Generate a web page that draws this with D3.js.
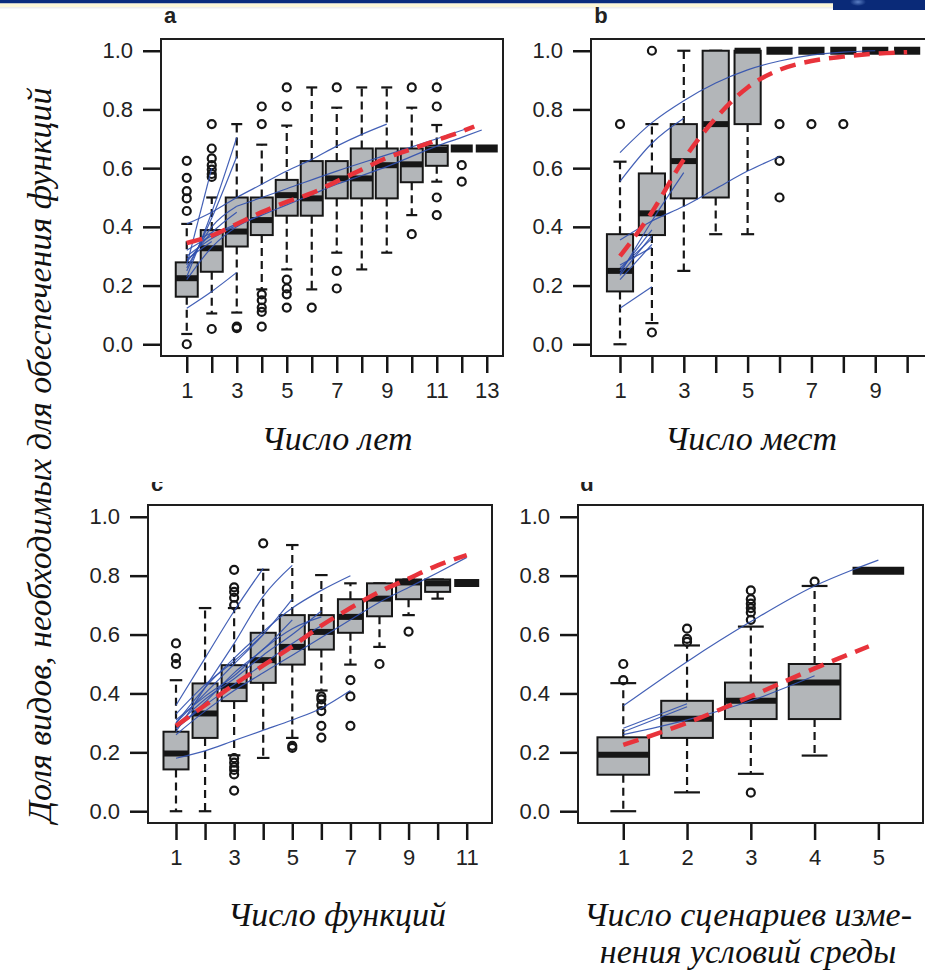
<!DOCTYPE html>
<html>
<head>
<meta charset="utf-8">
<script src="https://cdn.jsdelivr.net/npm/d3@7"></script>
<style>
  html, body { margin: 0; padding: 0; background: #fff; }
  svg { display: block; }
</style>
</head>
<body>
<svg id="chart" width="925" height="971"></svg>
<script>
// ---------------- DATA ----------------
const yTickValues = [0, 0.2, 0.4, 0.6, 0.8, 1.0];

// Panel a : Число лет
const aCats = d3.range(1, 14);
const aStats = [ // [lower whisker, q1, median, q3, upper whisker]
  [0.035, 0.162, 0.225, 0.279, 0.41],
  [0.105, 0.247, 0.327, 0.389, 0.50],
  [0.108, 0.333, 0.384, 0.50, 0.75],
  [0.187, 0.372, 0.423, 0.50, 0.68],
  [0.255, 0.438, 0.508, 0.56, 0.745],
  [0.187, 0.438, 0.497, 0.624, 0.875],
  [0.312, 0.497, 0.565, 0.624, 0.806],
  [0.255, 0.497, 0.565, 0.667, 0.875],
  [0.312, 0.497, 0.61, 0.667, 0.875],
  [0.44, 0.552, 0.613, 0.667, 0.806],
  [0.554, 0.608, 0.662, 0.677, 0.747],
  [0.667, 0.667, 0.667, 0.667, 0.667],
  [0.667, 0.667, 0.667, 0.667, 0.667]
];
const aOutliers = [
  [0.625, 0.567, 0.522, 0.497, 0.454, 0.0],
  [0.75, 0.667, 0.633, 0.61, 0.595, 0.58, 0.57, 0.052],
  [0.06, 0.055],
  [0.81, 0.75, 0.17, 0.15, 0.125, 0.11, 0.06],
  [0.875, 0.81, 0.22, 0.19, 0.17, 0.125],
  [0.125],
  [0.875, 0.25, 0.19],
  [],
  [],
  [0.875, 0.375],
  [0.875, 0.81, 0.5, 0.44],
  [0.61, 0.554],
  []
];
const aRed = [[1,0.345],[2,0.37],[3,0.41],[4,0.45],[5,0.485],[6,0.515],[7,0.555],[8,0.595],[9,0.635],[10,0.665],[11,0.695],[12,0.725],[12.5,0.742]];
const aBlue = [
  [[1,0.123],[2,0.18],[3,0.245]],
  [[1,0.41],[2,0.45],[3,0.50],[4,0.545],[5,0.59],[6,0.63],[7,0.675],[8,0.715],[9,0.75]],
  [[1,0.30],[2,0.36],[3,0.405],[4,0.44],[5,0.475],[6,0.51],[7,0.545],[8,0.575],[9,0.605],[10,0.64],[11,0.675],[12,0.705],[12.8,0.73]],
  [[3,0.47],[5,0.53],[7,0.59],[9,0.645],[11,0.70],[12.4,0.74]],
  [[1,0.23],[2,0.45],[3,0.705]],
  [[1,0.25],[2,0.43],[3,0.64]],
  [[1,0.26],[2,0.40],[3,0.47]],
  [[1,0.28],[2,0.38],[3,0.45]],
  [[1,0.27],[2,0.60]],
  [[1,0.32],[2,0.37],[3,0.41]],
  [[1,0.22],[2,0.33],[3,0.40],[4,0.44]],
  [[1,0.29],[2,0.35]],
  [[1,0.34],[2,0.38]]
];

// Panel b : Число мест
const bCats = d3.range(1, 11);
const bStats = [
  [0.0, 0.18, 0.25, 0.375, 0.622],
  [0.072, 0.372, 0.446, 0.582, 0.75],
  [0.25, 0.497, 0.624, 0.75, 1.0],
  [0.375, 0.5, 0.75, 1.0, 1.0],
  [0.375, 0.75, 1.0, 1.0, 1.0],
  [1, 1, 1, 1, 1],
  [1, 1, 1, 1, 1],
  [1, 1, 1, 1, 1],
  [1, 1, 1, 1, 1],
  [1, 1, 1, 1, 1]
];
const bOutliers = [
  [0.75],
  [1.0, 0.04],
  [],
  [],
  [],
  [0.75, 0.625, 0.5],
  [0.75],
  [0.75],
  [],
  []
];
const bRed = [[1,0.30],[2,0.45],[3,0.63],[4,0.77],[5,0.875],[6,0.935],[7,0.965],[8,0.98],[9,0.99],[10,0.995]];
const bBlue = [
  [[1,0.653],[2,0.755],[3,0.83],[4,0.89],[5,0.935],[6,0.965],[7,0.985],[8,0.995],[9,1.0]],
  [[1,0.555],[2,0.685],[3,0.77]],
  [[1,0.355],[2,0.42],[3,0.47],[4,0.53],[5,0.59],[6,0.64]],
  [[1,0.123],[2,0.196]],
  [[1,0.24],[2,0.42],[3,0.585]],
  [[1,0.22],[2,0.34]],
  [[1,0.235],[2,0.37]],
  [[1,0.25],[2,0.39]],
  [[1,0.26],[2,0.36]],
  [[1,0.27],[2,0.33]]
];

// Panel c : Число функций
const cCats = d3.range(1, 12);
const cStats = [
  [0.0, 0.142, 0.196, 0.27, 0.445],
  [0.0, 0.249, 0.332, 0.434, 0.69],
  [0.19, 0.374, 0.426, 0.496, 0.69],
  [0.181, 0.436, 0.513, 0.606, 0.82],
  [0.249, 0.498, 0.558, 0.666, 0.904],
  [0.41, 0.549, 0.609, 0.666, 0.802],
  [0.498, 0.606, 0.66, 0.72, 0.774],
  [0.558, 0.662, 0.722, 0.774, 0.774],
  [0.666, 0.72, 0.777, 0.787, 0.787],
  [0.722, 0.745, 0.774, 0.787, 0.787],
  [0.775, 0.775, 0.775, 0.775, 0.775]
];
const cOutliers = [
  [0.57, 0.52, 0.5],
  [],
  [0.82, 0.76, 0.745, 0.725, 0.70, 0.18, 0.165, 0.15, 0.14, 0.125, 0.07],
  [0.91],
  [0.222, 0.215],
  [0.39, 0.38, 0.36, 0.34, 0.29, 0.25],
  [0.445, 0.39, 0.29],
  [0.5],
  [0.61],
  [],
  []
];
const cRed = [[1,0.29],[2,0.36],[3,0.43],[4,0.495],[5,0.56],[6,0.63],[7,0.69],[8,0.745],[9,0.79],[10,0.835],[11,0.87]];
const cBlue = [
  [[1,0.18],[2,0.205],[3,0.24],[4,0.275],[5,0.31],[6,0.35],[7,0.41]],
  [[1,0.36],[2,0.52],[3,0.68],[4,0.825]],
  [[1,0.27],[2,0.42],[3,0.57],[4,0.73],[5,0.835]],
  [[1,0.30],[2,0.42],[3,0.52],[4,0.61],[5,0.69],[6,0.75],[7,0.80]],
  [[1,0.30],[2,0.40],[3,0.50],[4,0.60],[5,0.72]],
  [[1,0.29],[2,0.38],[3,0.45],[4,0.53],[5,0.60],[6,0.68]],
  [[1,0.28],[2,0.36],[3,0.43],[4,0.50],[5,0.57],[6,0.63]],
  [[1,0.26],[2,0.34],[3,0.41],[4,0.47],[5,0.53],[6,0.59],[7,0.65],[8,0.71],[9,0.76],[10,0.81],[11,0.862]],
  [[1,0.31],[2,0.39],[3,0.46],[4,0.55],[5,0.62],[6,0.66]],
  [[1,0.33],[2,0.43],[3,0.51],[4,0.60]],
  [[1,0.28],[2,0.37],[3,0.47],[4,0.55],[5,0.65]]
];

// Panel d : Число сценариев изменения условий среды
const dCats = d3.range(1, 6);
const dStats = [
  [0.0, 0.124, 0.192, 0.251, 0.435],
  [0.064, 0.249, 0.314, 0.375, 0.563],
  [0.127, 0.313, 0.375, 0.437, 0.627],
  [0.189, 0.313, 0.437, 0.5, 0.765],
  [0.817, 0.817, 0.817, 0.817, 0.817]
];
const dOutliers = [
  [0.5, 0.445],
  [0.62, 0.585, 0.575],
  [0.75, 0.72, 0.705, 0.69, 0.675, 0.65, 0.063],
  [0.78],
  []
];
const dRed = [[1,0.225],[2,0.30],[3,0.39],[4,0.485],[4.85,0.56]];
const dBlue = [
  [[1,0.358],[2,0.508],[3,0.644],[4,0.765],[4.6,0.82],[5,0.853]],
  [[1,0.282],[2,0.365]],
  [[1,0.27],[2,0.355]],
  [[1,0.26],[2,0.31],[3,0.375],[4,0.46]]
];

// Texts
const panelLetters = ["a", "b", "c", "d"];
const xTitles = [["Число лет"], ["Число мест"], ["Число функций"], ["Число сценариев изме-", "нения условий среды"]];
const yTitle = "Доля видов, необходимых для обеспечения функций";

// ---------------- LAYOUT ----------------
const panels = [
  { letter: panelLetters[0], cats: aCats, stats: aStats, outs: aOutliers, red: aRed, blue: aBlue, titles: xTitles[0],
    frame: {l:161, t:39, r:503, b:356}, xDom: [-0.03, 13.65], boxW: 0.88, labelEvery: 2,
    letterPos: [170, 23], titlePos: [337, 450] },
  { letter: panelLetters[1], cats: bCats, stats: bStats, outs: bOutliers, red: bRed, blue: bBlue, titles: xTitles[1],
    frame: {l:591, t:39, r:940, b:356}, xDom: [0.091, 11.03], boxW: 0.82, labelEvery: 2,
    letterPos: [601, 23], titlePos: [751, 450] },
  { letter: panelLetters[2], cats: cCats, stats: cStats, outs: cOutliers, red: cRed, blue: cBlue, titles: xTitles[2],
    frame: {l:148, t:505, r:492, b:823}, xDom: [0.037, 11.87], boxW: 0.86, labelEvery: 2,
    letterPos: [157, 491], titlePos: [337, 926] },
  { letter: panelLetters[3], cats: dCats, stats: dStats, outs: dOutliers, red: dRed, blue: dBlue, titles: xTitles[3],
    frame: {l:578, t:505, r:923, b:823}, xDom: [0.29, 5.70], boxW: 0.81, labelEvery: 1,
    letterPos: [587, 491], titlePos: [748, 926] }
];

const svg = d3.select("#chart");
const INK = "#161616";
const BOX_FILL = "#b3b6b9";
const BLUE = "#2f4fae";
const RED = "#e8333b";

// slide banner at top
svg.append("rect").attr("x", 0).attr("y", 0).attr("width", 925).attr("height", 3.5).attr("fill", "#0b2d7d");
svg.append("rect").attr("x", 0).attr("y", 3.5).attr("width", 833).attr("height", 3.5).attr("fill", "#fdf7d6");
svg.append("rect").attr("x", 0).attr("y", 7).attr("width", 833).attr("height", 1.5).attr("fill", "#eeeeee");
const defs = svg.append("defs");
const grad = defs.append("radialGradient").attr("id", "spot");
grad.append("stop").attr("offset", "0%").attr("stop-color", "#5b7fc4");
grad.append("stop").attr("offset", "100%").attr("stop-color", "#0a2a78");
svg.append("rect").attr("x", 833).attr("y", 0).attr("width", 92).attr("height", 10).attr("fill", "#0a2a78");
svg.append("ellipse").attr("cx", 858).attr("cy", 2).attr("rx", 8).attr("ry", 4).attr("fill", "url(#spot)");

defs.append("clipPath").attr("id", "letterClip")
  .append("rect").attr("x", 0).attr("y", 482).attr("width", 925).attr("height", 20);

const SERIF = "'Liberation Serif', 'Times New Roman', serif";
const SANS = "'Liberation Sans', Arial, sans-serif";

panels.forEach((p, pi) => {
  const f = p.frame;
  const x = d3.scaleLinear().domain(p.xDom).range([f.l, f.r]);
  const y = d3.scaleLinear().domain([-0.04, 1.04]).range([f.b, f.t]);
  const unit = x(1) - x(0);
  const bw = p.boxW * unit;
  const g = svg.append("g");

  const cid = "clip" + pi;
  defs.append("clipPath").attr("id", cid)
    .append("rect").attr("x", f.l).attr("y", f.t).attr("width", f.r - f.l).attr("height", f.b - f.t);
  const plot = g.append("g").attr("clip-path", `url(#${cid})`);

  // boxes
  p.stats.forEach((s, i) => {
    const cx = x(p.cats[i]);
    const [lo, q1, med, q3, hi] = s;
    const bg = plot.append("g");
    if (hi > q3) bg.append("line").attr("x1", cx).attr("x2", cx).attr("y1", y(q3)).attr("y2", y(hi))
      .attr("stroke", INK).attr("stroke-width", 2.2).attr("stroke-dasharray", "8,5");
    if (lo < q1) bg.append("line").attr("x1", cx).attr("x2", cx).attr("y1", y(q1)).attr("y2", y(lo))
      .attr("stroke", INK).attr("stroke-width", 2.2).attr("stroke-dasharray", "8,5");
    [lo, hi].forEach(v => bg.append("line").attr("x1", cx - bw / 4).attr("x2", cx + bw / 4)
      .attr("y1", y(v)).attr("y2", y(v)).attr("stroke", INK).attr("stroke-width", 2.2));
    bg.append("rect").attr("x", cx - bw / 2).attr("width", bw)
      .attr("y", y(q3)).attr("height", Math.max(0, y(q1) - y(q3)))
      .attr("fill", BOX_FILL).attr("stroke", INK).attr("stroke-width", 2);
    bg.append("line").attr("x1", cx - bw / 2).attr("x2", cx + bw / 2)
      .attr("y1", y(med)).attr("y2", y(med)).attr("stroke", INK)
      .attr("stroke-width", q1 === q3 ? 8 : 6);
    p.outs[i].forEach(v => bg.append("circle").attr("cx", cx).attr("cy", y(v)).attr("r", 4)
      .attr("fill", "none").attr("stroke", INK).attr("stroke-width", 2.2));
  });

  // blue individual curves
  const line = d3.line().x(d => x(d[0])).y(d => y(d[1])).curve(d3.curveMonotoneX);
  p.blue.forEach(l => plot.append("path").attr("d", line(l)).attr("fill", "none")
    .attr("stroke", BLUE).attr("stroke-width", 1.2).attr("opacity", 0.9));

  // red mean curve
  plot.append("path").attr("d", line(p.red)).attr("fill", "none")
    .attr("stroke", RED).attr("stroke-width", 4.5).attr("stroke-dasharray", "16,9");

  // frame
  g.append("rect").attr("x", f.l).attr("y", f.t).attr("width", f.r - f.l).attr("height", f.b - f.t)
    .attr("fill", "none").attr("stroke", "#1e1e1e").attr("stroke-width", 2);

  // axes
  const yAxis = d3.axisLeft(y).tickValues(yTickValues).tickSize(17).tickPadding(10)
    .tickFormat(d3.format(".1f"));
  const ya = g.append("g").attr("transform", `translate(${f.l - 1},0)`).call(yAxis);
  const xAxis = d3.axisBottom(x).tickValues(p.cats).tickSize(16).tickPadding(9)
    .tickFormat(d => ((d - 1) % p.labelEvery === 0 ? d : ""));
  const xa = g.append("g").attr("transform", `translate(0,${f.b + 1})`).call(xAxis);
  [ya, xa].forEach(a => {
    a.select(".domain").remove();
    a.selectAll(".tick line").attr("stroke", INK).attr("stroke-width", 2.5);
    a.selectAll(".tick text").attr("fill", "#222").attr("font-family", SANS).attr("font-size", 22);
  });

  // panel letter
  const lt = svg.append("text").attr("x", p.letterPos[0]).attr("y", p.letterPos[1])
    .attr("text-anchor", "middle").attr("font-family", SANS)
    .attr("font-weight", "bold").attr("font-size", 22).attr("fill", "#222").text(p.letter);
  if (pi >= 2) lt.attr("clip-path", "url(#letterClip)");

  // x titles
  p.titles.forEach((t, k) => svg.append("text").attr("x", p.titlePos[0]).attr("y", p.titlePos[1] + k * 37)
    .attr("text-anchor", "middle").attr("font-family", SERIF)
    .attr("font-style", "italic").attr("font-size", 34).attr("fill", "#111").text(t));
});

// y title
svg.append("text").attr("transform", "translate(51,455) rotate(-90)")
  .attr("text-anchor", "middle").attr("font-family", SERIF)
  .attr("font-style", "italic").attr("font-size", 34).attr("fill", "#111").text(yTitle);
</script>
</body>
</html>
